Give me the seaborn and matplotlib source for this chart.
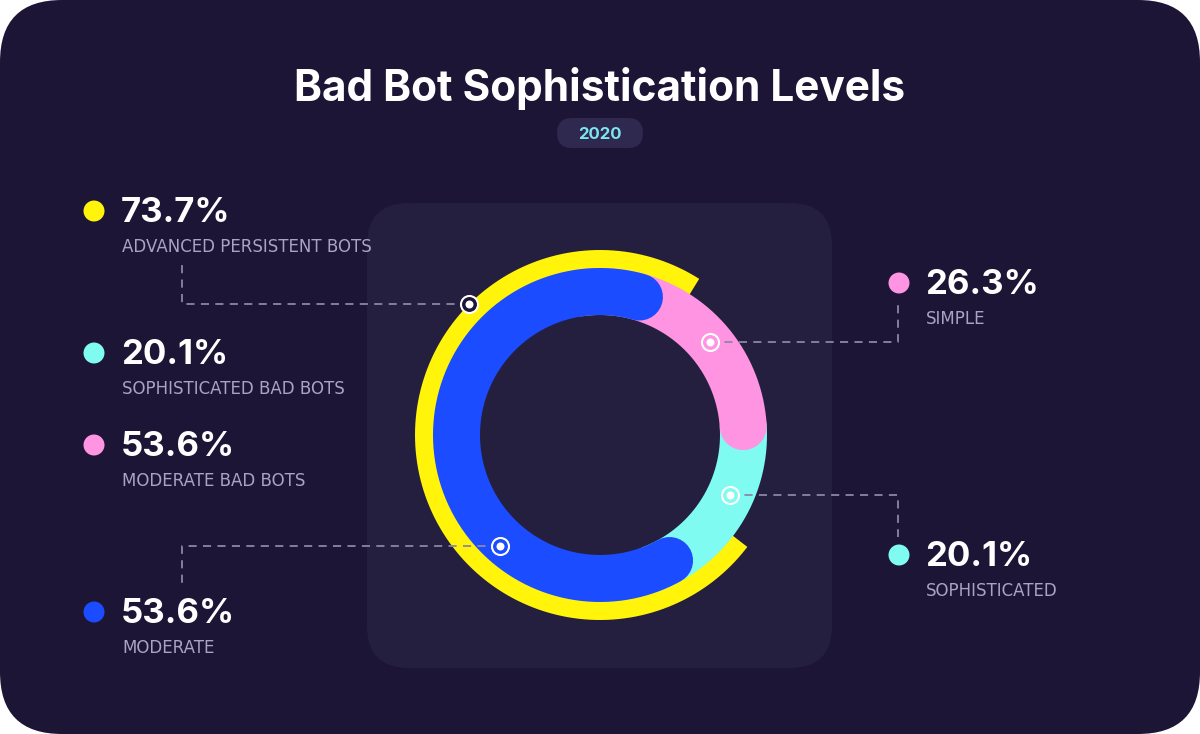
import numpy as np
import pandas as pd
import matplotlib
matplotlib.use("Agg")
import matplotlib.pyplot as plt
from matplotlib.patches import FancyBboxPatch
import seaborn as sns

# ---------------- data ----------------
title = "Bad Bot Sophistication Levels"
year = "2020"
left_values = [73.7, 20.1, 53.6, 53.6]
left_labels = ["ADVANCED PERSISTENT BOTS", "SOPHISTICATED BAD BOTS", "MODERATE BAD BOTS", "MODERATE"]
right_values = [26.3, 20.1]
right_labels = ["SIMPLE", "SOPHISTICATED"]
outer_ring_value = 73.7                    # advanced persistent bots
inner_ring_names = ["Sophisticated", "Simple", "Moderate"]
inner_ring_values = [20.1, 26.3, 53.6]

# ---------------- style ----------------
BG = "#1c1535"
PANEL = "#251f3f"
PILL = "#2f2950"
YELLOW = "#fff40a"
BLUE = "#1b4cff"
PINK = "#ff94e2"
CYAN = "#7ffbf1"
GREY = "#aaa4c4"
DASH = "#8c86a6"

left_colors = [YELLOW, CYAN, PINK, BLUE]
right_colors = [PINK, CYAN]
ring_colors = {"Sophisticated": CYAN, "Simple": PINK, "Moderate": BLUE}

sns.set_theme(style="white")
plt.rcParams["font.family"] = ["Inter", "DejaVu Sans"]

W, H = 1200, 734
fig = plt.figure(figsize=(W / 100, H / 100), dpi=100, facecolor="white")

# background axes in pixel coordinates
bg = fig.add_axes([0, 0, 1, 1], zorder=0)
bg.set_xlim(0, W)
bg.set_ylim(H, 0)
bg.set_axis_off()
bg.add_patch(FancyBboxPatch((0, 0), W, H, boxstyle="round,pad=0,rounding_size=62",
                            fc=BG, ec="none"))
bg.add_patch(FancyBboxPatch((367, 203), 465, 465, boxstyle="round,pad=0,rounding_size=42",
                            fc=PANEL, ec="none"))
bg.add_patch(FancyBboxPatch((557, 118), 86, 30, boxstyle="round,pad=0,rounding_size=15",
                            fc=PILL, ec="none"))
bg.text(600, 101, title, ha="center", va="baseline", color="white",
        fontsize=30.5, fontweight="bold")
bg.text(600, 139, year, ha="center", va="baseline", color="#7de6ee",
        fontsize=12, fontweight="bold")

# ---------------- donut (polar axes, 1 unit = 1 px) ----------------
cx, cy = 600, 435
R = 200
pax = fig.add_axes([(cx - R) / W, (H - cy - R) / H, 2 * R / W, 2 * R / H],
                   projection="polar", zorder=1)
pax.set_ylim(0, R)
pax.set_axis_off()
pax.patch.set_alpha(0)

px2pt = 72 / 100
inner_r, inner_w = 143.5, 47
outer_r, outer_w = 169, 32


def arc(ax, start_deg, span_deg, r, width, color, cap="round"):
    th = np.deg2rad(np.linspace(start_deg, start_deg + span_deg, 300))
    df = pd.DataFrame({"theta": th, "r": np.full_like(th, r)})
    sns.lineplot(data=df, x="theta", y="r", ax=ax, color=color, estimator=None,
                 linewidth=width * px2pt, solid_capstyle=cap, sort=False)


# outer yellow ring
yellow_start = 57.5
arc(pax, yellow_start, outer_ring_value / 100 * 360, outer_r, outer_w, YELLOW, cap="butt")

# inner ring: sophisticated -> simple -> moderate (moderate drawn with overlap)
theta0 = -69
pad_top, pad_bottom = 24, 8
bounds = np.concatenate([[0], np.cumsum(inner_ring_values)]) / 100 * 360 + theta0
for i, name in enumerate(inner_ring_names):
    s, e = bounds[i], bounds[i + 1]
    if name == "Moderate":
        s, e = s - pad_top, e + pad_bottom
    arc(pax, s, e - s, inner_r, inner_w, ring_colors[name])
pax.set_xlabel("")
pax.set_ylabel("")
pax.set_ylim(0, R)

# ---------------- overlay: legend dots, texts, connectors ----------------
ov = fig.add_axes([0, 0, 1, 1], zorder=2)
ov.set_xlim(0, W)
ov.set_ylim(H, 0)
ov.set_axis_off()
ov.patch.set_alpha(0)

left_y = [211, 353, 445, 612]
right_y = [283, 555]
dots = pd.DataFrame({
    "x": [94] * 4 + [899] * 2,
    "y": left_y + right_y,
    "c": left_colors + right_colors,
})
sns.scatterplot(data=dots, x="x", y="y", ax=ov, c=dots["c"], s=(21 * px2pt) ** 2,
                linewidth=0, legend=False)
ov.set_xlim(0, W)
ov.set_ylim(H, 0)

for v, lab, y in zip(left_values, left_labels, left_y):
    ov.text(121, y + 11, f"{v:.1f}%", color="white", fontsize=25, fontweight="bold",
            va="baseline", ha="left")
    ov.text(122, y + 41, lab, color=GREY, fontsize=12, va="baseline", ha="left",
            family=["DejaVu Sans"])
for v, lab, y in zip(right_values, right_labels, right_y):
    ov.text(925, y + 11, f"{v:.1f}%", color="white", fontsize=25, fontweight="bold",
            va="baseline", ha="left")
    ov.text(926, y + 41, lab, color=GREY, fontsize=12, va="baseline", ha="left",
            family=["DejaVu Sans"])


def pol(angle, r):
    a = np.deg2rad(angle)
    return cx + r * np.cos(a), cy - r * np.sin(a)


# connectors: (marker angle, radius, elbow x, end y, fill colour)
connectors = [
    (135, 185, 182, 265, BG),
    (228, 149, 182, 585, BLUE),
    (40, 144, 898, 300, PINK),
    (-25, 143, 898, 537, CYAN),
]
for ang, r, ex, ey, fill in connectors:
    mx, my = pol(ang, r)
    ov.plot([mx, ex, ex], [my, my, ey], color=DASH, lw=1.3, dashes=(4.5, 3.5),
            solid_capstyle="butt", zorder=3)
    ov.scatter([mx], [my], s=(17 * px2pt) ** 2, facecolor=fill, edgecolor="white",
               linewidth=1.5, zorder=4)
    ov.scatter([mx], [my], s=(8 * px2pt) ** 2, color="white", linewidth=0, zorder=5)

fig.savefig("out.png", dpi=100, facecolor="white")
